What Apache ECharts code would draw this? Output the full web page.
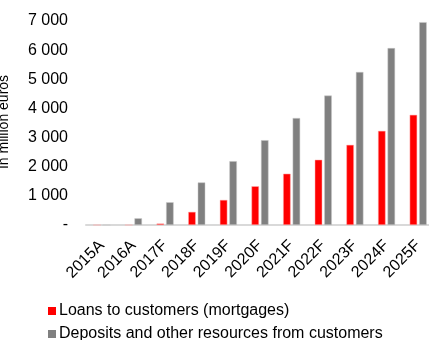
<!DOCTYPE html>
<html><head><meta charset="utf-8">
<script src="https://cdn.jsdelivr.net/npm/echarts@6/dist/echarts.min.js"></script>
<style>html,body{margin:0;padding:0;background:#fff}#c{width:429px;height:340px}</style>
</head><body><div id="c"></div>
<script>
const categories = ['2015A','2016A','2017F','2018F','2019F','2020F','2021F','2022F','2023F','2024F','2025F'];
const loans = [0, 0, 50, 450, 860, 1330, 1760, 2240, 2750, 3230, 3780];
const deposits = [0, 230, 780, 1460, 2190, 2910, 3670, 4440, 5250, 6070, 6960];
const seriesNames = ['Loans to customers (mortgages)', 'Deposits and other resources from customers'];
const yTicks = [0, 1000, 2000, 3000, 4000, 5000, 6000, 7000];
const yAxisName = 'In million euros';

const chart = echarts.init(document.getElementById('c'));
const font = '"Liberation Sans", Arial, sans-serif';
const legendBase = {
  left: 48, itemWidth: 8, itemHeight: 8, icon: 'rect', padding: 0,
  itemStyle: {borderWidth: 0},
  textStyle: {fontFamily: font, fontSize: 16, color: '#000', padding: [0,0,0,-2]}
};
chart.setOption({
  animation: false,
  grid: {left: 86, right: -5, top: 21, bottom: 115, containLabel: false, outerBoundsMode: 'none'},
  legend: [
    Object.assign({}, legendBase, {top: 303, data: [seriesNames[0]]}),
    Object.assign({}, legendBase, {top: 326, data: [seriesNames[1]]})
  ],
  graphic: [{
    type: 'text', x: 4, y: 122, rotation: Math.PI / 2,
    style: {text: yAxisName, font: '14px "Liberation Sans", Arial, sans-serif', fill: '#000',
            align: 'center', verticalAlign: 'middle'}
  }],
  xAxis: {
    type: 'category', data: categories,
    axisLine: {lineStyle: {color: '#d9d9d9', width: 2}},
    axisTick: {show: false},
    axisLabel: {rotate: 45, margin: 18, fontFamily: font, fontSize: 16, color: '#000', interval: 0}
  },
  yAxis: {
    type: 'value', min: yTicks[0], max: yTicks[yTicks.length-1], interval: 1000,
    splitLine: {show: false}, axisLine: {show: false}, axisTick: {show: false},
    axisLabel: {
      margin: 18, fontFamily: font, fontSize: 16, color: '#000',
      formatter: v => v === 0 ? '-' : String(v).replace(/\B(?=(\d{3})+(?!\d))/g, ' ')
    }
  },
  series: [
    {name: seriesNames[0], type: 'bar', data: loans, barWidth: 7.5, barGap: '27%',
     itemStyle: {color: '#ff0000', borderColor: '#ffb3b3', borderWidth: 0.5}},
    {name: seriesNames[1], type: 'bar', data: deposits, barWidth: 7.5, barGap: '27%',
     itemStyle: {color: '#808080', borderColor: '#c8c8c8', borderWidth: 0.5}}
  ]
});
</script></body></html>
